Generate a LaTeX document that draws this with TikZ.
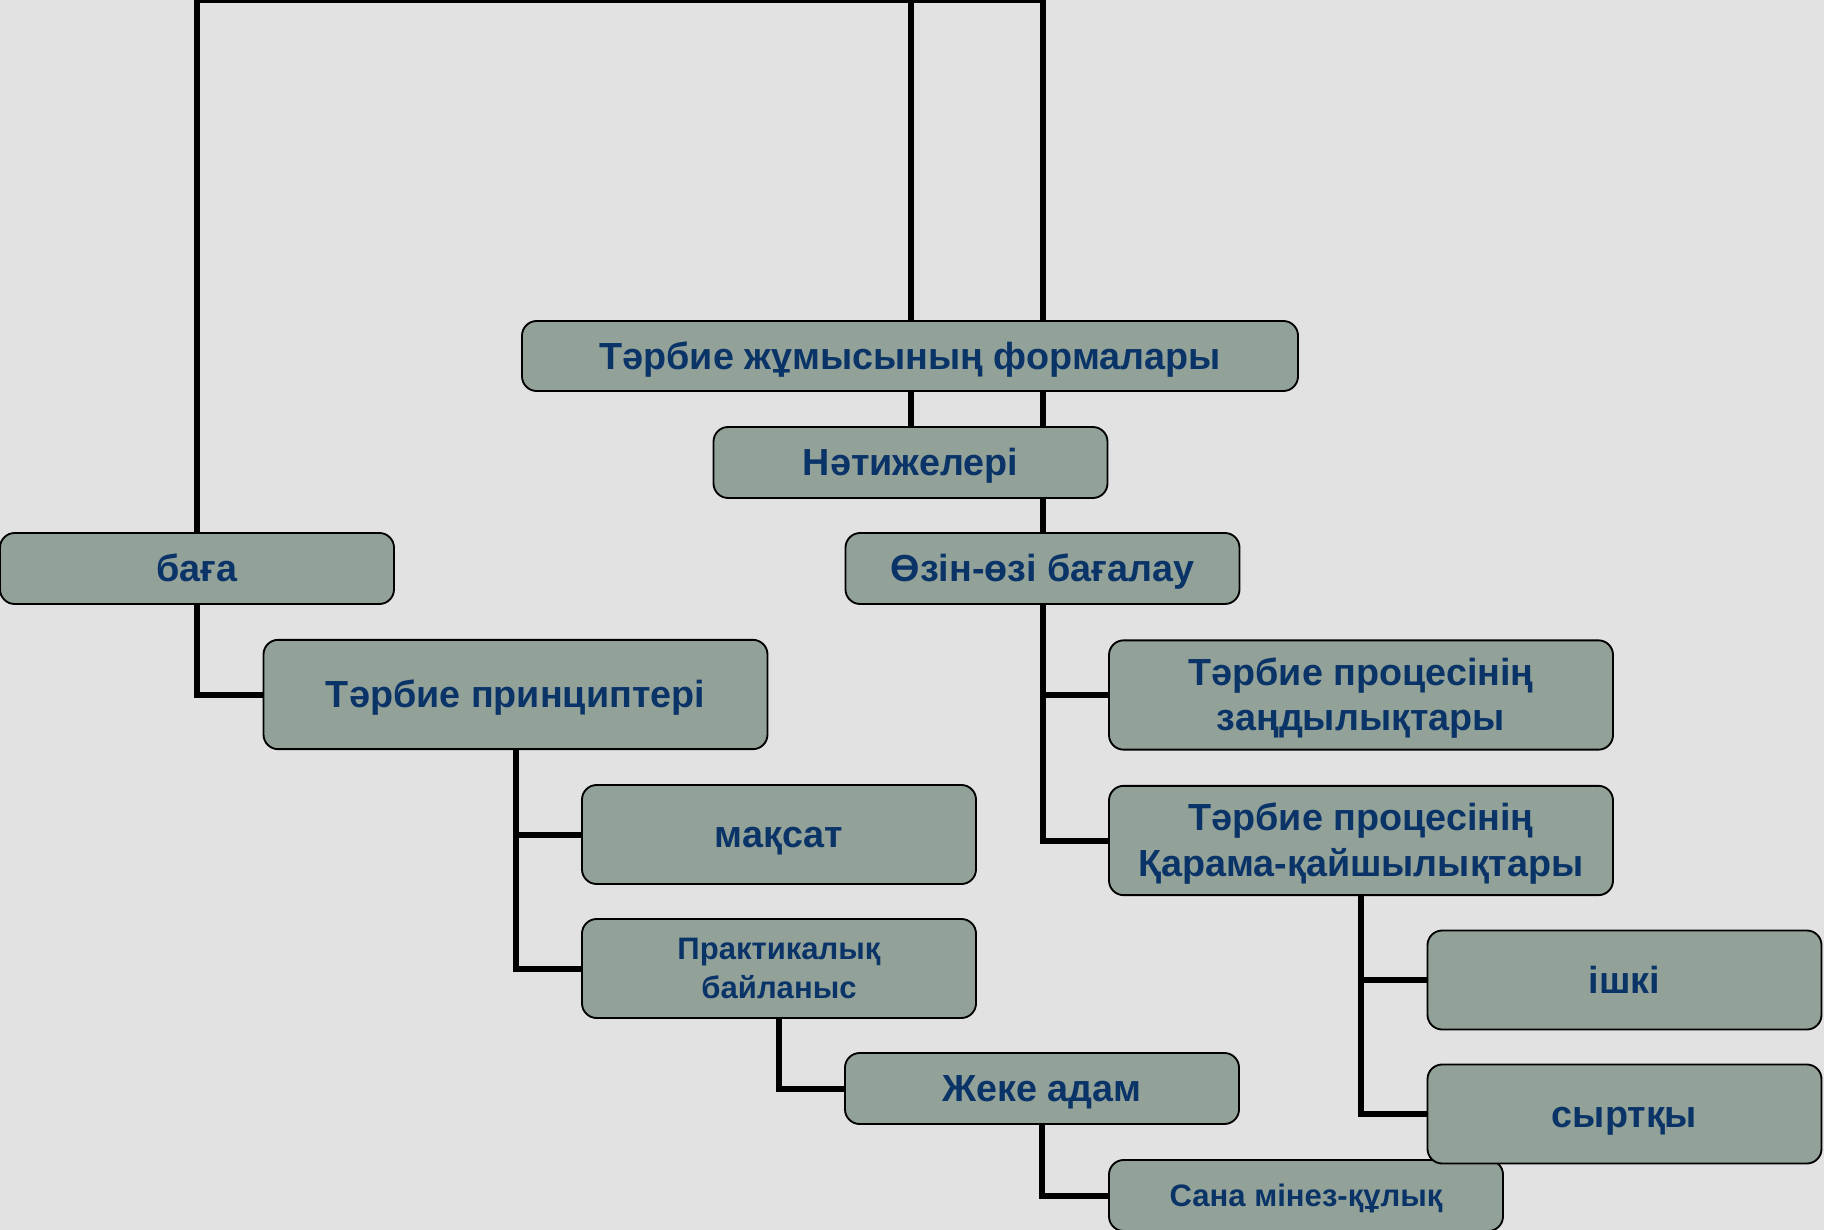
\documentclass[tikz,border=0pt]{standalone}
\usepackage{fontspec}
\setmainfont{Liberation Sans}
\usepackage{xcolor}
\usepackage{tikz}
\usetikzlibrary{positioning,backgrounds}

\definecolor{boxfill}{RGB}{147,162,152}
\definecolor{boxtext}{RGB}{10,52,104}
\definecolor{slidebg}{RGB}{226,226,226}

% line strut: font ascent and descent, so lines sit as in the slide
\newcommand{\boxstrut}{\rule[-0.212em]{0pt}{1.117em}}
\newcommand{\topstrut}{\rule[-0.212em]{0pt}{\dimexpr\baselineskip+1.117em\relax}}

\tikzset{
  box/.style={draw=black, line width=1.4pt, fill=boxfill, rounded corners=11pt,
    text=boxtext, align=center, inner sep=0pt,
    font=\bfseries\fontsize{28.3}{34}\selectfont,
    execute at begin node=\boxstrut, execute at end node=\boxstrut},
  two lines/.style={execute at begin node=\topstrut},
  small box/.style={box, minimum width=295.5pt, minimum height=53.25pt},
  mid box/.style={box, minimum width=295.5pt, minimum height=74.25pt},
  wide box/.style={box, minimum width=378pt, minimum height=82pt},
  small text/.style={font=\bfseries\fontsize{23.3}{29.5}\selectfont},
  conn/.style={draw=black, line width=4.5pt}
}

\begin{document}
\begin{tikzpicture}[x=0.75pt,y=0.75pt,yscale=-1,xscale=1]
\useasboundingbox (0,0) rectangle (1824,1230);

%Rounded Rect top row
\node [box, minimum width=582pt, minimum height=52.5pt] (tarbie) at (910,356) {Тәрбие жұмысының формалары};
\node [small box] (natije) at (910.5,462.5) {Нәтижелері};
\node [small box] (ozin) at (1042.5,568.5) {Өзін-өзі бағалау};
\node [small box] (baga) at (197,568.5) {баға};
%Rounded Rect left branch
\node [wide box] (princip) at (515.5,694.5) {Тәрбие принциптері};
\node [mid box] (maqsat) at (779,834.5) {мақсат};
\node [mid box, small text, two lines] (praktika) at (779,968.5) {Практикалық\\байланыс};
\node [small box] (jeke) at (1042,1088.5) {Жеке адам};
\node [small box, small text] (sana) at (1306,1195.5) {Сана мінез-құлық};
%Rounded Rect right branch
\node [wide box, two lines] (zandy) at (1361,695) {Тәрбие процесінің\\заңдылықтары};
\node [wide box, two lines] (qarama) at (1361,840.5) {Тәрбие процесінің\\Қарама-қайшылықтары};
\node [mid box] (ishki) at (1624.5,980) {ішкі};
\node [mid box] (syrtqy) at (1624.5,1114) {сыртқы};

\coordinate (topbar) at (0,0.5);

\begin{scope}[on background layer]
\fill [slidebg] (0,0) rectangle (1824,1230);
%Straight Lines
\draw [conn] (baga.north) |- (ozin.north |- topbar) -- (ozin.north);
\draw [conn] (natije.north) -- (natije.north |- topbar);
\draw [conn] (baga.south) |- (princip.west);
\draw [conn] (princip.south) |- (praktika.west);
\draw [conn] (princip.south) |- (maqsat.west);
\draw [conn] (praktika.south) |- (jeke.west);
\draw [conn] (jeke.south) |- (sana.west);
\draw [conn] (ozin.south) |- (qarama.west);
\draw [conn] (ozin.south) |- (zandy.west);
\draw [conn] (qarama.south) |- (syrtqy.west);
\draw [conn] (qarama.south) |- (ishki.west);
\end{scope}
\end{tikzpicture}
\end{document}
